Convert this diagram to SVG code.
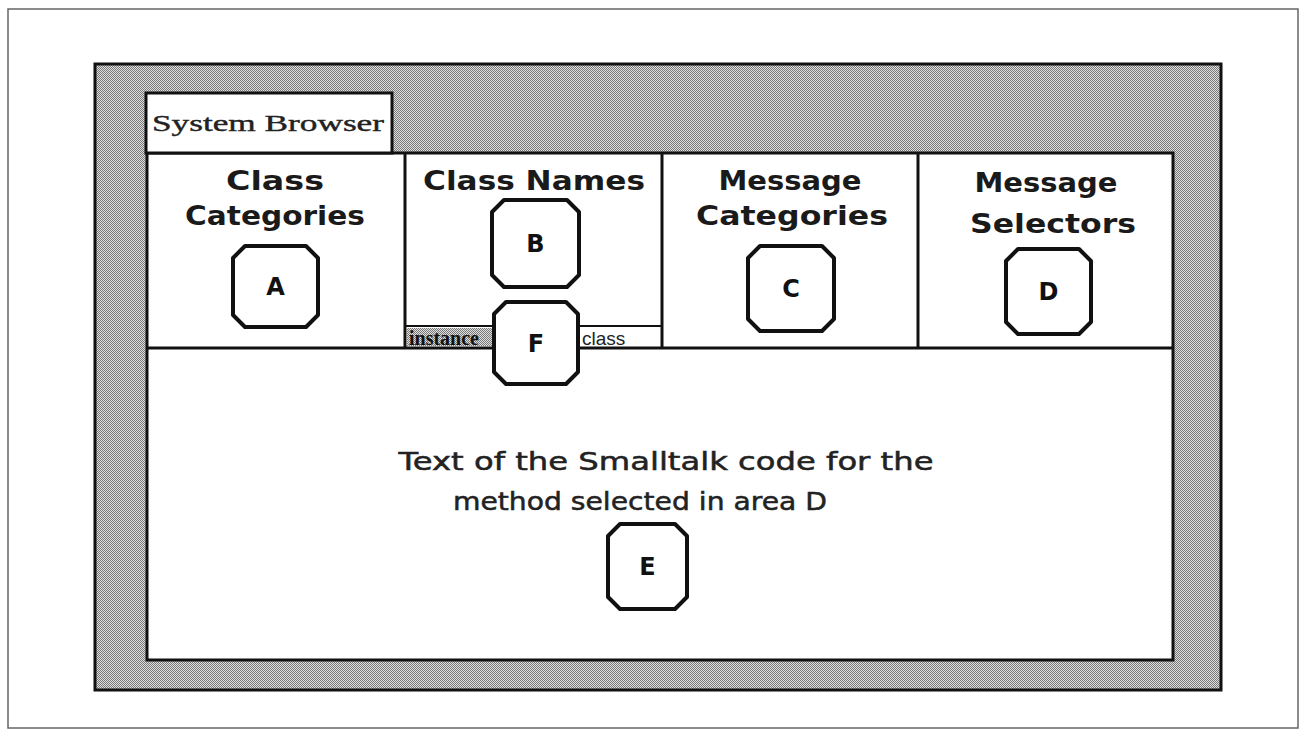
<svg xmlns="http://www.w3.org/2000/svg" width="1306" height="738" viewBox="0 0 1306 738">
<defs>
<pattern id="dither" width="2" height="2" patternUnits="userSpaceOnUse">
<rect width="2" height="2" fill="#dedede"/>
<rect width="1" height="1" fill="#7a7a7a"/>
<rect x="1" y="1" width="1" height="1" fill="#7a7a7a"/>
</pattern>
</defs>
<style>
.head{font-family:"DejaVu Sans",sans-serif;font-weight:bold;font-size:26px;fill:#1a1a1a;text-anchor:middle}
.badge{fill:#fff;stroke:#111;stroke-width:4;stroke-linejoin:round}
.bl{font-family:"DejaVu Sans",sans-serif;font-weight:bold;font-size:24px;fill:#111;text-anchor:middle}
.body{font-family:"DejaVu Sans",sans-serif;font-size:25px;fill:#222;stroke:#222;stroke-width:0.5;text-anchor:middle}
.line{stroke:#111;stroke-width:3;fill:none}
</style>
<rect width="1306" height="738" fill="#fff"/>
<rect x="8" y="9" width="1290" height="719" fill="none" stroke="#666" stroke-width="1.5"/>
<g id="window">
<rect x="95" y="64" width="1126" height="626" fill="url(#dither)" stroke="#111" stroke-width="3"/>
<rect x="147" y="153" width="1026" height="507" fill="#fff" stroke="#111" stroke-width="3"/>
<rect x="146" y="93" width="246" height="60" fill="#fff" stroke="#111" stroke-width="3"/>
<text x="268" y="131" font-family="'Liberation Serif','DejaVu Serif',serif" font-size="24" fill="#222" stroke="#222" stroke-width="0.4" text-anchor="middle" textLength="232" lengthAdjust="spacingAndGlyphs">System Browser</text>
</g>
<g id="panes">
<line class="line" x1="147" y1="348" x2="1173" y2="348"/>
<line class="line" x1="405" y1="153" x2="405" y2="348"/>
<line class="line" x1="662" y1="153" x2="662" y2="348"/>
<line class="line" x1="918" y1="153" x2="918" y2="348"/>
<line x1="405" y1="326" x2="662" y2="326" stroke="#111" stroke-width="2"/>
<rect x="407" y="328" width="90" height="18" fill="url(#dither)"/>
<text x="409" y="345" font-family="'Liberation Serif',serif" font-size="20" font-weight="bold" fill="#111">instance</text>
<text x="582" y="345" font-family="'Liberation Sans',sans-serif" font-size="19" fill="#222">class</text>
</g>
<g id="paneA">
<text class="head" x="275" y="190" textLength="98" lengthAdjust="spacingAndGlyphs">Class</text>
<text class="head" x="275" y="225" textLength="180" lengthAdjust="spacingAndGlyphs">Categories</text>
</g>
<g id="paneB">
<text class="head" x="534" y="190" textLength="222" lengthAdjust="spacingAndGlyphs">Class Names</text>
</g>
<g id="paneC">
<text class="head" x="790" y="190" textLength="143" lengthAdjust="spacingAndGlyphs">Message</text>
<text class="head" x="792" y="225" textLength="192" lengthAdjust="spacingAndGlyphs">Categories</text>
</g>
<g id="paneD">
<text class="head" x="1046" y="192" textLength="143" lengthAdjust="spacingAndGlyphs">Message</text>
<text class="head" x="1053" y="233" textLength="166" lengthAdjust="spacingAndGlyphs">Selectors</text>
</g>
<g id="paneE">
<text class="body" x="666" y="470" textLength="535" lengthAdjust="spacingAndGlyphs">Text of the Smalltalk code for the</text>
<text class="body" x="640" y="510" textLength="374" lengthAdjust="spacingAndGlyphs">method selected in area D</text>
</g>
<g id="badgeA">
<polygon class="badge" points="245,246 306,246 318,258 318,315 306,327 245,327 233,315 233,258"/>
<text class="bl" x="275.5" y="295">A</text>
</g>
<g id="badgeB">
<polygon class="badge" points="504,200 567,200 579,212 579,275 567,287 504,287 492,275 492,212"/>
<text class="bl" x="535.5" y="252">B</text>
</g>
<g id="badgeC">
<polygon class="badge" points="760,246 822,246 834,258 834,319 822,331 760,331 748,319 748,258"/>
<text class="bl" x="791" y="297">C</text>
</g>
<g id="badgeD">
<polygon class="badge" points="1018,249 1079,249 1091,261 1091,322 1079,334 1018,334 1006,322 1006,261"/>
<text class="bl" x="1048.5" y="300">D</text>
</g>
<g id="badgeE">
<polygon class="badge" points="620,524 675,524 687,536 687,597 675,609 620,609 608,597 608,536"/>
<text class="bl" x="647.5" y="575">E</text>
</g>
<g id="badgeF">
<polygon class="badge" points="506,302 566,302 578,314 578,372 566,384 506,384 494,372 494,314"/>
<text class="bl" x="536" y="352">F</text>
</g>
</svg>
